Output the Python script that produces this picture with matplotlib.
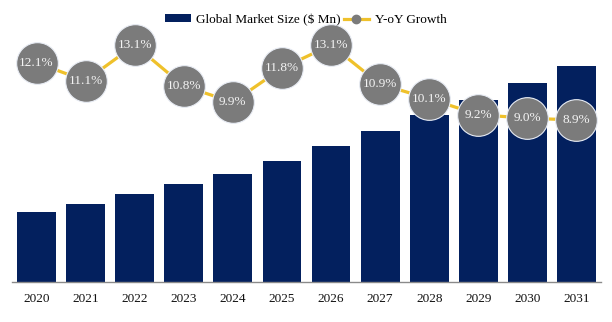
import matplotlib.pyplot as plt
from matplotlib.lines import Line2D
from matplotlib.patches import Patch

years = ['2020', '2021', '2022', '2023', '2024', '2025',
         '2026', '2027', '2028', '2029', '2030', '2031']
market_size = [70.0, 78.0, 88.0, 98.0, 108.0, 121.0,
               136.0, 151.0, 167.0, 182.0, 199.0, 216.0]
yoy_growth = [12.1, 11.1, 13.1, 10.8, 9.9, 11.8,
              13.1, 10.9, 10.1, 9.2, 9.0, 8.9]

bar_color = '#03205e'
line_color = '#efc12b'
dot_color = '#7b7b7b'
serif = ['Liberation Serif', 'DejaVu Serif']

fig = plt.figure(figsize=(6.12, 3.22), dpi=100)
ax = fig.add_axes([12 / 612, 40 / 322, 589 / 612, 262 / 322])

x = list(range(len(years)))
ax.bar(x, market_size, width=0.79, color=bar_color, zorder=2)
ax.set_xlim(-0.5, len(years) - 0.5)
ax.set_ylim(0, 262)
ax.set_yticks([])
ax.set_xticks(x)
ax.set_xticklabels(years, fontfamily=serif, fontsize=9.5, color='#111111')
ax.tick_params(axis='x', length=0, pad=8)
for s in ['top', 'left', 'right']:
    ax.spines[s].set_visible(False)
ax.spines['bottom'].set_color('#8a8a8a')
ax.spines['bottom'].set_linewidth(1.0)

# growth line on its own scale
ax2 = ax.twinx()
ax2.set_ylim(-0.17, 14.5)
ax2.set_yticks([])
for s in ['top', 'left', 'right', 'bottom']:
    ax2.spines[s].set_visible(False)
ax2.plot(x, yoy_growth, color=line_color, lw=2.3, zorder=3,
         marker='o', markersize=30, markerfacecolor=dot_color,
         markeredgecolor='#e8ecf4', markeredgewidth=0.8)
for xi, v in zip(x, yoy_growth):
    ax2.text(xi, v, f'{v:.1f}%', ha='center', va='center',
             fontfamily=serif, fontsize=9.5, color='#f4f4f4', zorder=4)

handles = [Patch(facecolor=bar_color, edgecolor='none'),
           Line2D([0], [0], color=line_color, lw=2.3, marker='o',
                  markersize=6, markerfacecolor=dot_color, markeredgecolor=dot_color)]
labels = ['Global Market Size ($ Mn)', 'Y-oY Growth']
fig.legend(handles, labels, loc='center', bbox_to_anchor=(306 / 612, 1 - 20 / 322),
           ncol=2, frameon=False, prop={'family': serif, 'size': 9.5},
           handlelength=1.9, handleheight=0.55, handletextpad=0.45,
           columnspacing=0.2, borderpad=0)

fig.savefig('out.png', dpi=100)
